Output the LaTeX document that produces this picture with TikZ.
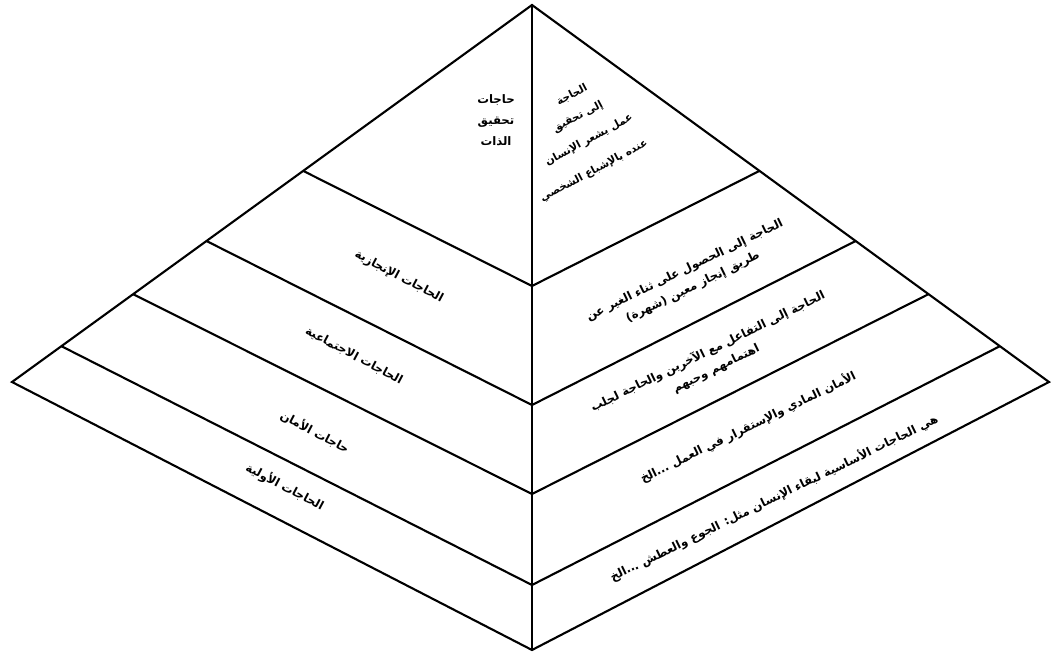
\documentclass[tikz,border=0pt]{standalone}
\usepackage{fontspec}
\usetikzlibrary{calc}
\TeXXeTstate=1
\newfontfamily\arabicfont[Script=Arabic]{DejaVu Sans}
\newcommand{\rl}[1]{\beginR #1\endR}

\begin{document}
\begin{tikzpicture}[x=0.03cm, y=-0.03cm,
    pyr/.style={line width=1.8pt, line join=miter},
    lbl/.style={font=\arabicfont\bfseries\fontsize{10}{16}\selectfont, align=center, inner sep=1pt},
    small lbl/.style={lbl, font=\arabicfont\bfseries\fontsize{9}{12}\selectfont}]
        \useasboundingbox (0,0) rectangle (1051,653);
        % Pyramid corners
        \coordinate (apex) at (532,5);
        \coordinate (lc) at (12,382);
        \coordinate (rc) at (1049,382);
        \coordinate (bot) at (532,650);
        \draw[pyr] (apex) -- (lc) -- (bot) -- (rc) -- cycle;
        \draw[pyr] (apex) -- (bot);
        % Levels
        \foreach \t/\m [count=\i] in {0.440/286, 0.626/405, 0.767/494, 0.905/585}
            \draw[pyr] ($(apex)!\t!(lc)$) coordinate (l\i) -- (532,\m) coordinate (m\i) -- ($(apex)!\t!(rc)$) coordinate (r\i);
        % Level names
        \node[lbl, font=\arabicfont\bfseries\fontsize{10}{18}\selectfont] (self) at (496,120) {\rl{حاجات}\\\rl{تحقيق}\\\rl{الذات}};
        \node[lbl, rotate=-28] (esteem) at (399,277) {\rl{الحاجات الإنجازية}};
        \node[lbl, rotate=-28] (social) at (354,356) {\rl{الحاجات الاجتماعية}};
        \node[lbl, rotate=-28] (safety) at (315,432) {\rl{حاجات الأمان}};
        \node[lbl, rotate=-28] (basic) at (285,487) {\rl{الحاجات الأولية}};
        % Descriptions
        \foreach \txt/\x/\y [count=\i] in {الحاجة/572/95, إلى تحقيق/578/117, عمل يشعر الإنسان/589/140, عنده بالإشباع الشخصي/594/171}
            \node[small lbl, rotate=28] (selfd\i) at (\x,\y) {\rl{\txt}};
        \node[lbl, rotate=26] (esteemd) at (689,279) {\rl{الحاجة إلى الحصول على ثناء الغير عن}\\\rl{طريق إنجاز معين (شهرة)}};
        \node[lbl, rotate=26] (sociald) at (712,360) {\rl{الحاجة إلى التفاعل مع الآخرين والحاجة لجلب}\\\rl{اهتمامهم وحبهم}};
        \node[lbl, rotate=26] (safetyd) at (748,427) {\rl{الأمان المادي والإستقرار في العمل ...الخ}};
        \node[lbl, rotate=26] (basicd) at (774,498) {\rl{هي الحاجات الأساسية لبقاء الإنسان مثل: الجوع والعطش ...الخ}};
    \end{tikzpicture}
\end{document}
